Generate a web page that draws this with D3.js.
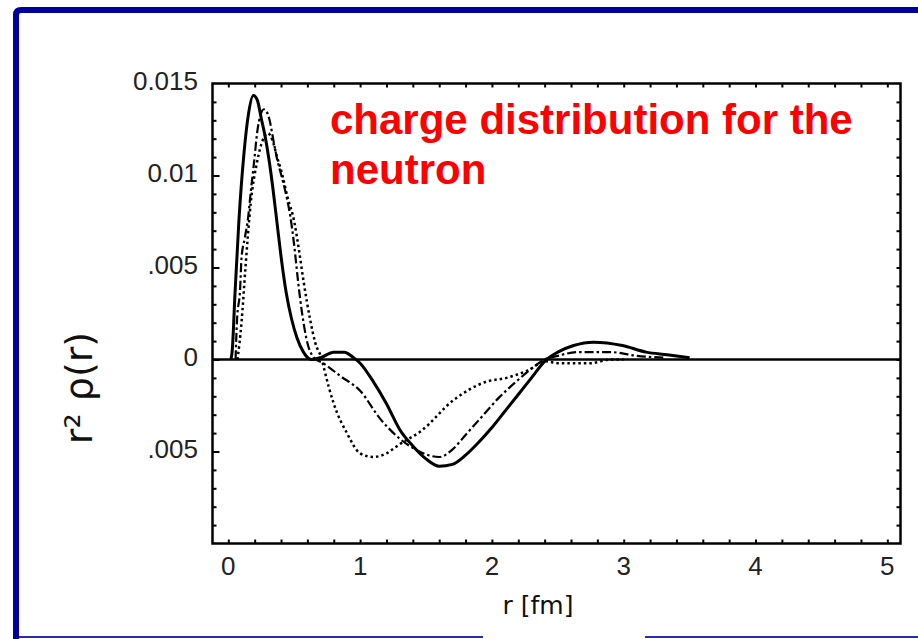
<!DOCTYPE html>
<html>
<head>
<meta charset="utf-8">
<script src="https://cdn.jsdelivr.net/npm/d3@7/dist/d3.min.js"></script>
<style>
	body { margin: 0; background: #ffffff; }
	svg { display: block; }
</style>
</head>
<body>
<div id="chart"></div>
<script>
// r [fm], r^2 rho(r)
var solid_curve = [
	[0.02, 0], [0.03, 0.0005], [0.05, 0.0035], [0.08, 0.0075], [0.12, 0.0113], [0.15, 0.0132],
	[0.19, 0.01435], [0.22, 0.0141], [0.25, 0.0131], [0.28, 0.0121], [0.31, 0.0108], [0.34, 0.0092],
	[0.37, 0.0074], [0.4, 0.0056], [0.44, 0.0036], [0.48, 0.0022], [0.52, 0.0012], [0.57, 0.0004], [0.63, 0.0],
	[0.7, 0.0001], [0.8, 0.0004], [0.88, 0.0004], [0.95, 0.0001], [1.0, -0.0002], [1.1, -0.0012],
	[1.2, -0.0024], [1.3, -0.0038], [1.4, -0.0047], [1.5, -0.0054], [1.6, -0.0058], [1.7, -0.0057],
	[1.8, -0.0052], [1.9, -0.0045], [2.0, -0.0037], [2.1, -0.0028], [2.2, -0.0019], [2.3, -0.001],
	[2.4, -0.0001], [2.5, 0.0004], [2.62, 0.00076], [2.77, 0.00094], [2.99, 0.00076], [3.17, 0.0004],
	[3.33, 0.00026], [3.5, 0.0001]
];
var dashdot_curve = [
	[0.055, 0], [0.065, 0.002], [0.09, 0.0039], [0.1, 0.0055], [0.125, 0.0066], [0.15, 0.0077],
	[0.17, 0.0091], [0.195, 0.0107], [0.22, 0.0124], [0.245, 0.0133], [0.27, 0.0136], [0.31, 0.0131],
	[0.345, 0.0118], [0.37, 0.0109], [0.41, 0.0098], [0.44, 0.0089], [0.47, 0.0078], [0.5, 0.0062],
	[0.53, 0.0042], [0.56, 0.0025], [0.6, 0.0009], [0.65, 0.0001], [0.72, -0.0002], [0.85, -0.0009],
	[1.0, -0.0017], [1.15, -0.0032], [1.3, -0.0043], [1.45, -0.005], [1.6, -0.0053], [1.7, -0.0049],
	[1.8, -0.0041], [1.9, -0.0033], [2.05, -0.0021], [2.2, -0.0011], [2.3, -0.0005], [2.4, 0],
	[2.5, 0.0002], [2.65, 0.0004], [2.9, 0.0004], [3.1, 0.0002], [3.3, 0.0001]
];
var dotted_curve = [
	[0.07, 0], [0.1, 0.002], [0.13, 0.005], [0.17, 0.0085], [0.22, 0.0108], [0.26, 0.0119],
	[0.3, 0.0123], [0.34, 0.0118], [0.37, 0.011], [0.4, 0.0103], [0.45, 0.0088], [0.5, 0.0075],
	[0.535, 0.006], [0.572, 0.0042], [0.62, 0.0022], [0.66, 0.0009], [0.71, 0.0], [0.73, -0.0006],
	[0.8, -0.0024], [0.9, -0.004], [1.0, -0.0051], [1.1, -0.0053], [1.2, -0.0051], [1.3, -0.0046],
	[1.46, -0.0039], [1.71, -0.0022], [1.96, -0.0012], [2.11, -0.001], [2.27, -0.0006], [2.41, -0.0001],
	[2.5, -0.0002], [2.75, -0.0002], [2.9, 0.0], [3.0, 0.0]
];
var x_tick_values = [0, 1, 2, 3, 4, 5];
var x_tick_labels = ["0", "1", "2", "3", "4", "5"];
var y_tick_values = [0.015, 0.01, 0.005, 0, -0.005];
var y_tick_labels = ["0.015", "0.01", ".005", "0", ".005"];
var title_lines = ["charge distribution for the", "neutron"];

var ChargePlot = {};
ChargePlot.render = function(div_id) {
	var width = 918;
	var height = 639;
	var box = {left: 212.5, right: 900.5, top: 83.5, bottom: 543.5};

	var svg = d3.select(div_id).append("svg")
		.attr("width", width)
		.attr("height", height);

	// blue slide frame
	svg.append("path")
		.attr("d", "M16,639 V15 Q16,10 21,10 H918")
		.attr("fill", "none")
		.attr("stroke", "#00009c")
		.attr("stroke-width", 6);
	svg.append("line").attr("x1", 19).attr("x2", 483).attr("y1", 637).attr("y2", 637)
		.attr("stroke", "#2b2bab").attr("stroke-width", 2);
	svg.append("line").attr("x1", 645).attr("x2", 918).attr("y1", 637).attr("y2", 637)
		.attr("stroke", "#2b2bab").attr("stroke-width", 2);

	var x_scale = d3.scaleLinear().domain([-0.12, 5.1]).range([box.left, box.right]);
	var y_scale = d3.scaleLinear().domain([-0.01, 0.015]).range([box.bottom, box.top]);

	var x_minor = d3.range(0, 26).map(function(i) { return i * 0.2; });
	var y_minor = d3.range(-9, 15).map(function(i) { return i * 0.001; });

	var axes = svg.append("g").attr("class", "axes");
	axes.append("g").attr("transform", "translate(0," + box.bottom + ")")
		.call(d3.axisBottom(x_scale).tickValues(x_minor).tickSize(-4).tickFormat(""));
	axes.append("g").attr("transform", "translate(0," + box.top + ")")
		.call(d3.axisTop(x_scale).tickValues(x_minor).tickSize(-4).tickFormat(""));
	axes.append("g").attr("class", "y_left").attr("transform", "translate(" + box.left + ",0)")
		.call(d3.axisLeft(y_scale).tickValues(y_minor).tickSize(-4).tickFormat(""));
	axes.append("g").attr("class", "y_right").attr("transform", "translate(" + box.right + ",0)")
		.call(d3.axisRight(y_scale).tickValues(y_minor).tickSize(-4).tickFormat(""));
	axes.selectAll(".domain").remove();
	axes.selectAll(".tick line").attr("stroke", "#000").attr("stroke-width", 2);
	// longer ticks at every 0.005
	axes.selectAll(".y_left .tick line").filter(function(d) {
		return Math.abs(Math.round(d / 0.005) * 0.005 - d) < 1e-9;
	}).attr("x2", 7);

	// frame and zero line
	svg.append("rect")
		.attr("x", box.left).attr("y", box.top)
		.attr("width", box.right - box.left).attr("height", box.bottom - box.top)
		.attr("fill", "none").attr("stroke", "#000").attr("stroke-width", 2.5);
	svg.append("line")
		.attr("x1", box.left).attr("x2", box.right)
		.attr("y1", y_scale(0)).attr("y2", y_scale(0))
		.attr("stroke", "#000").attr("stroke-width", 2.5);

	// tick labels
	svg.selectAll("text.x_label")
		.data(x_tick_values)
		.enter()
		.append("text")
		.attr("class", "x_label")
		.attr("x", function(d) { return x_scale(d); })
		.attr("y", 575)
		.attr("text-anchor", "middle")
		.attr("font-family", "Liberation Sans, Arial, sans-serif")
		.attr("font-size", 26)
		.attr("fill", "#222")
		.text(function(d, i) { return x_tick_labels[i]; });
	svg.selectAll("text.y_label")
		.data(y_tick_values)
		.enter()
		.append("text")
		.attr("class", "y_label")
		.attr("x", 198)
		.attr("y", function(d) { return y_scale(d) + 6; })
		.attr("text-anchor", "end")
		.attr("font-family", "Liberation Sans, Arial, sans-serif")
		.attr("font-size", 26)
		.attr("fill", "#222")
		.text(function(d, i) { return y_tick_labels[i]; });

	// axis titles
	svg.append("text")
		.attr("x", 538).attr("y", 614)
		.attr("text-anchor", "middle")
		.attr("font-family", "DejaVu Sans, sans-serif")
		.attr("font-size", 25)
		.attr("fill", "#111")
		.text("r [fm]");
	svg.append("text")
		.attr("transform", "translate(92,388) rotate(-90)")
		.attr("text-anchor", "middle")
		.attr("font-family", "DejaVu Sans, sans-serif")
		.attr("font-size", 38)
		.attr("fill", "#111")
		.text("r\u00b2 \u03c1(r)");

	// curves
	var line = d3.line()
		.x(function(d) { return x_scale(d[0]); })
		.y(function(d) { return y_scale(d[1]); })
		.curve(d3.curveMonotoneX);
	var curves = [
		{data: dotted_curve, width: 2.5, dash: "2.5,3"},
		{data: dashdot_curve, width: 2.2, dash: "9,3,2.5,3"},
		{data: solid_curve, width: 3, dash: null}
	];
	svg.selectAll("path.curve")
		.data(curves)
		.enter()
		.append("path")
		.attr("class", "curve")
		.attr("d", function(d) { return line(d.data); })
		.attr("fill", "none")
		.attr("stroke", "#000")
		.attr("stroke-width", function(d) { return d.width; })
		.attr("stroke-dasharray", function(d) { return d.dash; });

	// red title
	svg.selectAll("text.title")
		.data(title_lines)
		.enter()
		.append("text")
		.attr("class", "title")
		.attr("x", 330)
		.attr("y", function(d, i) { return 133.5 + i * 50; })
		.attr("font-family", "Liberation Sans, Arial, sans-serif")
		.attr("font-weight", "bold")
		.attr("font-size", 42)
		.attr("fill", "#ff0000")
		.text(function(d) { return d; });
};

ChargePlot.render("#chart");
</script>
</body>
</html>
